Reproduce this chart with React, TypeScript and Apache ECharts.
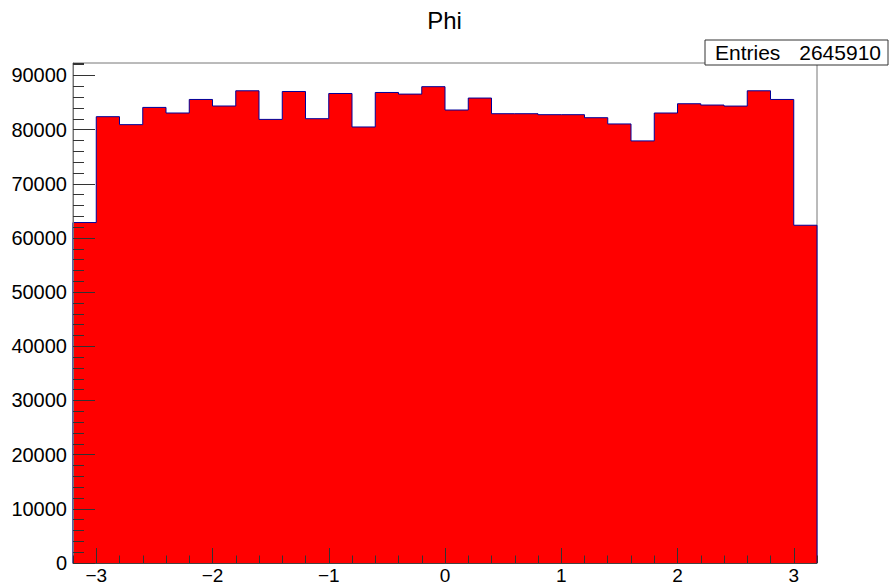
import React, { useEffect, useRef } from 'react';
import * as echarts from 'echarts';

const chartTitle = 'Phi';
const entriesLabel = 'Entries';
const entriesValue = '2645910';
const xRange = [-3.2, 3.2];
const yMax = 92300;
const binCounts = [
  62850, 82390, 80920, 84100, 83070, 85570, 84360, 87170,
  81890, 87040, 82020, 86670, 80490, 86860, 86560, 87930,
  83620, 85830, 82940, 82940, 82760, 82760, 82200, 81050,
  77920, 83070, 84780, 84540, 84350, 87170, 85570, 62350,
];
const xMajorTicks = [-3, -2, -1, 0, 1, 2, 3];
const xTickLabels = ['\u22123', '\u22122', '\u22121', '0', '1', '2', '3'];
const xMinorStep = 0.2;
const yMajorTicks = [0, 10000, 20000, 30000, 40000, 50000, 60000, 70000, 80000, 90000];
const yTickLabels = ['0', '10000', '20000', '30000', '40000', '50000', '60000', '70000', '80000', '90000'];
const yMinorStep = 2000;

const FONT = 'Liberation Sans, Arial, Helvetica, sans-serif';

export default function App() {
  const ref = useRef<HTMLDivElement>(null);
  useEffect(() => {
    const chart = echarts.init(ref.current!, null, { renderer: 'svg' });
    const n = binCounts.length;
    const w = (xRange[1] - xRange[0]) / n;
    const pts: number[][] = [[xRange[0], 0]];
    binCounts.forEach((c, i) => {
      const x0 = xRange[0] + i * w;
      pts.push([x0, c], [x0 + w, c]);
    });
    pts.push([xRange[1], 0]);

    const frameColor = '#777';
    const tickColor = '#333';

    chart.setOption({
      animation: false,
      backgroundColor: '#fff',
      grid: {
        left: 73, right: 72, top: 63, bottom: 23,
        show: true, borderColor: frameColor, borderWidth: 1,
        containLabel: false, outerBoundsMode: 'none',
      },
      xAxis: [
        {
          type: 'value', min: xRange[0], max: xRange[1], position: 'bottom', z: 10,
          axisLine: { show: true, onZero: false, lineStyle: { color: '#444', width: 1 } },
          axisTick: { show: true, inside: true, length: 15, customValues: xMajorTicks, lineStyle: { color: tickColor } },
          axisLabel: {
            show: true, customValues: xMajorTicks, margin: 3,
            fontSize: 19, fontFamily: FONT, color: '#000',
            formatter: (v: number) => {
              const idx = xMajorTicks.findIndex((t) => Math.abs(t - v) < 1e-9);
              return idx >= 0 ? xTickLabels[idx] : '';
            },
          },
          splitLine: { show: false },
        },
        {
          type: 'value', min: xRange[0], max: xRange[1], interval: xMinorStep, position: 'bottom', z: 10,
          axisLine: { show: false, onZero: false },
          axisTick: { show: true, inside: true, length: 7.5, lineStyle: { color: tickColor } },
          axisLabel: { show: false },
          splitLine: { show: false },
        },
      ],
      yAxis: [
        {
          type: 'value', min: 0, max: yMax, position: 'left', z: 10,
          axisLine: { show: true, onZero: false, lineStyle: { color: frameColor, width: 1 } },
          axisTick: { show: true, inside: true, length: 22, customValues: yMajorTicks, lineStyle: { color: tickColor } },
          axisLabel: {
            show: true, customValues: yMajorTicks, margin: 6,
            fontSize: 20, fontFamily: FONT, color: '#000',
            formatter: (v: number) => {
              const idx = yMajorTicks.findIndex((t) => Math.abs(t - v) < 1e-6);
              return idx >= 0 ? yTickLabels[idx] : '';
            },
          },
          splitLine: { show: false },
        },
        {
          type: 'value', min: 0, max: yMax, interval: yMinorStep, position: 'left', z: 10,
          axisLine: { show: false, onZero: false },
          axisTick: { show: true, inside: true, length: 11, lineStyle: { color: tickColor } },
          axisLabel: { show: false },
          splitLine: { show: false },
        },
      ],
      series: [
        {
          type: 'line',
          xAxisIndex: 0, yAxisIndex: 0,
          data: pts,
          showSymbol: false,
          symbol: 'none',
          lineStyle: { color: '#000099', width: 1 },
          areaStyle: { color: '#ff0000', opacity: 1 },
          z: 1,
        },
      ],
      graphic: [
        {
          type: 'text', x: 444.5, y: 20.5, z: 100,
          style: { text: chartTitle, fontSize: 24, fontFamily: FONT, fill: '#000', align: 'center', verticalAlign: 'middle' },
        },
        {
          type: 'rect', z: 100,
          shape: { x: 705, y: 40, width: 183, height: 25 },
          style: { fill: '#fff', stroke: '#333', lineWidth: 1 },
        },
        {
          type: 'text', x: 715, y: 52.5, z: 101,
          style: { text: entriesLabel, fontSize: 21, fontFamily: FONT, fill: '#000', align: 'left', verticalAlign: 'middle' },
        },
        {
          type: 'text', x: 881, y: 52.5, z: 101,
          style: { text: entriesValue, fontSize: 21, fontFamily: FONT, fill: '#000', align: 'right', verticalAlign: 'middle' },
        },
      ],
    });
    return () => chart.dispose();
  }, []);
  return <div ref={ref} style={{ position: 'absolute', left: 0, top: 0, width: 889, height: 586 }} />;
}
